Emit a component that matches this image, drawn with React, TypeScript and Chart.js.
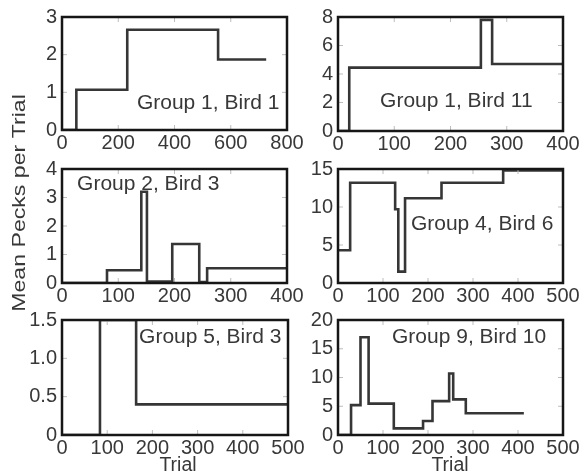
import React, { useEffect, useRef } from "react";
import { Chart, registerables } from "chart.js";

Chart.register(...registerables);

const W = 587;
const H = 474;
const YW = 50;
const XH = 30;
const FONT = "'Liberation Sans', Arial, Helvetica, sans-serif";

// ---- data ----
const g1b1Trial = [0, 51, 232, 555, 726];
const g1b1Pecks = [0, 1.07, 2.66, 1.87, 1.87];

const g1b11Trial = [0, 20, 254, 274, 400];
const g1b11Pecks = [0, 4.45, 7.8, 4.7, 4.7];

const g2b3Trial = [0, 80, 141, 151, 196, 244, 258, 400];
const g2b3Pecks = [0, 0.45, 3.2, 0.05, 1.37, 0.03, 0.52, 0.52];

const g4b6Trial = [0, 27, 127, 134, 149, 230, 367, 500];
const g4b6Pecks = [4.3, 13.2, 9.7, 1.5, 11.15, 13.2, 14.8, 14.8];

const g5b3Trial = [0, 84, 164, 500];
const g5b3Pecks = [0, 1.5, 0.4, 0.4];

const g9b10Trial = [0, 29, 50, 68, 124, 189, 210, 247, 256, 284, 413];
const g9b10Pecks = [0, 5.2, 17, 5.45, 1.16, 2.43, 5.9, 10.7, 6.2, 3.77, 3.77];

// ---- ticks ----
const xTicks800 = [0, 200, 400, 600, 800];
const xTicks400 = [0, 100, 200, 300, 400];
const xTicks500 = [0, 100, 200, 300, 400, 500];
const yTicks3 = [0, 1, 2, 3];
const yTicks8 = [0, 2, 4, 6, 8];
const yTicks4 = [0, 1, 2, 3, 4];
const yTicks15 = [0, 5, 10, 15];
const yTicks1p5 = [0, 0.5, 1, 1.5];
const yTicks20 = [0, 5, 10, 15, 20];

const panelLabels = [
  "Group 1, Bird 1",
  "Group 1, Bird 11",
  "Group 2, Bird 3",
  "Group 4, Bird 6",
  "Group 5, Bird 3",
  "Group 9, Bird 10",
];
const yTitle = "Mean Pecks per Trial";
const xTitle = "Trial";

type Extra = { text: string; x: number; y: number; rotate?: boolean; sx?: number; size: number };

type PanelCfg = {
  xs: number[];
  ys: number[];
  xTicks: number[];
  yTicks: number[];
  yFmt?: (v: number) => string;
  area: { l: number; r: number; t: number; b: number };
  label: string;
  lfx: number;
  lfy: number;
  extras?: Extra[];
};

const decoPlugin = {
  id: "deco",
  afterDatasetsDraw(chart: any) {
    const o = chart.options.plugins.deco;
    const { ctx, chartArea: a, scales } = chart;
    ctx.save();
    // inward tick marks
    ctx.strokeStyle = "#bdbdbd";
    ctx.lineWidth = 1;
    ctx.beginPath();
    for (const t of scales.x.ticks) {
      const px = scales.x.getPixelForValue(t.value);
      ctx.moveTo(px, a.bottom);
      ctx.lineTo(px, a.bottom - 5);
      ctx.moveTo(px, a.top);
      ctx.lineTo(px, a.top + 5);
    }
    for (const t of scales.y.ticks) {
      const py = scales.y.getPixelForValue(t.value);
      ctx.moveTo(a.left, py);
      ctx.lineTo(a.left + 5, py);
      ctx.moveTo(a.right, py);
      ctx.lineTo(a.right - 5, py);
    }
    ctx.stroke();
    // box
    ctx.strokeStyle = "#161616";
    ctx.lineWidth = 2.5;
    ctx.strokeRect(a.left, a.top, a.right - a.left, a.bottom - a.top);
    // panel label
    ctx.fillStyle = "#383838";
    ctx.font = `20px ${FONT}`;
    ctx.textBaseline = "alphabetic";
    ctx.textAlign = "left";
    const lx = a.left + o.lfx * (a.right - a.left);
    const ly = a.top + o.lfy * (a.bottom - a.top);
    ctx.save();
    ctx.translate(lx, ly);
    ctx.scale(1.05, 1);
    ctx.fillText(o.label, 0, 0);
    ctx.restore();
    // extra titles
    for (const e of o.extras || []) {
      ctx.save();
      ctx.font = `${e.size}px ${FONT}`;
      ctx.fillStyle = "#383838";
      ctx.textAlign = "center";
      ctx.textBaseline = "alphabetic";
      ctx.translate(e.x, e.y);
      if (e.rotate) ctx.rotate(-Math.PI / 2);
      ctx.scale(e.sx || 1, 1);
      ctx.fillText(e.text, 0, 0);
      ctx.restore();
    }
    ctx.restore();
  },
};

function buildConfig(p: PanelCfg): any {
  const xMin = p.xTicks[0];
  const xMax = p.xTicks[p.xTicks.length - 1];
  const yMin = p.yTicks[0];
  const yMax = p.yTicks[p.yTicks.length - 1];
  return {
    type: "line",
    data: {
      datasets: [
        {
          data: p.xs.map((x, i) => ({ x, y: p.ys[i] })),
          stepped: "before",
          borderColor: "#363636",
          borderWidth: 2.6,
          pointRadius: 0,
          fill: false,
          tension: 0,
        },
      ],
    },
    options: {
      responsive: false,
      animation: false,
      events: [],
      layout: {
        padding: {
          left: p.area.l - YW,
          right: W - p.area.r,
          top: p.area.t,
          bottom: H - p.area.b - XH,
        },
      },
      plugins: {
        legend: { display: false },
        tooltip: { enabled: false },
        deco: { label: p.label, lfx: p.lfx, lfy: p.lfy, extras: p.extras || [] },
      },
      scales: {
        x: {
          type: "linear",
          min: xMin,
          max: xMax,
          grid: { display: false, drawTicks: false },
          border: { display: false },
          afterBuildTicks: (s: any) => {
            s.ticks = p.xTicks.map((v) => ({ value: v }));
          },
          afterFit: (s: any) => {
            s.height = XH;
          },
          ticks: {
            autoSkip: false,
            maxRotation: 0,
            padding: 1,
            color: "#383838",
            font: { size: 20, family: FONT },
            callback: (v: any) => String(v),
          },
        },
        y: {
          type: "linear",
          min: yMin,
          max: yMax,
          grid: { display: false, drawTicks: false },
          border: { display: false },
          afterBuildTicks: (s: any) => {
            s.ticks = p.yTicks.map((v) => ({ value: v }));
          },
          afterFit: (s: any) => {
            s.width = YW;
          },
          ticks: {
            autoSkip: false,
            padding: 5,
            color: "#383838",
            font: { size: 20, family: FONT },
            callback: (v: any) => (p.yFmt ? p.yFmt(Number(v)) : String(v)),
          },
        },
      },
    },
    plugins: [decoPlugin],
  };
}

const panels: PanelCfg[] = [
  {
    xs: g1b1Trial,
    ys: g1b1Pecks,
    xTicks: xTicks800,
    yTicks: yTicks3,
    area: { l: 62, r: 287, t: 16, b: 130 },
    label: panelLabels[0],
    lfx: 0.333,
    lfy: 0.816,
  },
  {
    xs: g1b11Trial,
    ys: g1b11Pecks,
    xTicks: xTicks400,
    yTicks: yTicks8,
    area: { l: 338, r: 563, t: 16, b: 131 },
    label: panelLabels[1],
    lfx: 0.187,
    lfy: 0.79,
  },
  {
    xs: g2b3Trial,
    ys: g2b3Pecks,
    xTicks: xTicks400,
    yTicks: yTicks4,
    area: { l: 62, r: 287, t: 169, b: 283 },
    label: panelLabels[2],
    lfx: 0.067,
    lfy: 0.184,
    extras: [{ text: yTitle, x: 25, y: 203, rotate: true, sx: 1.25, size: 18.5 }],
  },
  {
    xs: g4b6Trial,
    ys: g4b6Pecks,
    xTicks: xTicks500,
    yTicks: yTicks15,
    area: { l: 338, r: 563, t: 169, b: 283 },
    label: panelLabels[3],
    lfx: 0.324,
    lfy: 0.535,
  },
  {
    xs: g5b3Trial,
    ys: g5b3Pecks,
    xTicks: xTicks500,
    yTicks: yTicks1p5,
    yFmt: (v) => (v === 0 ? "0" : v.toFixed(1)),
    area: { l: 62, r: 288, t: 320, b: 435 },
    label: panelLabels[4],
    lfx: 0.341,
    lfy: 0.2,
    extras: [{ text: xTitle, x: 178, y: 471, size: 19.5 }],
  },
  {
    xs: g9b10Trial,
    ys: g9b10Pecks,
    xTicks: xTicks500,
    yTicks: yTicks20,
    area: { l: 338, r: 563, t: 320, b: 435 },
    label: panelLabels[5],
    lfx: 0.24,
    lfy: 0.2,
    extras: [{ text: xTitle, x: 450, y: 471, size: 19.5 }],
  },
];

function Panel({ cfg }: { cfg: PanelCfg }) {
  const ref = useRef<HTMLCanvasElement | null>(null);
  useEffect(() => {
    if (!ref.current) return;
    const chart = new Chart(ref.current, buildConfig(cfg));
    return () => chart.destroy();
  }, [cfg]);
  return (
    <canvas
      ref={ref}
      width={W}
      height={H}
      style={{ position: "absolute", left: 0, top: 0, width: W, height: H }}
    />
  );
}

export default function App() {
  return (
    <div
      style={{
        position: "fixed",
        left: 0,
        top: 0,
        width: W,
        height: H,
        background: "#ffffff",
        overflow: "hidden",
      }}
    >
      {panels.map((p, i) => (
        <Panel key={i} cfg={p} />
      ))}
    </div>
  );
}
